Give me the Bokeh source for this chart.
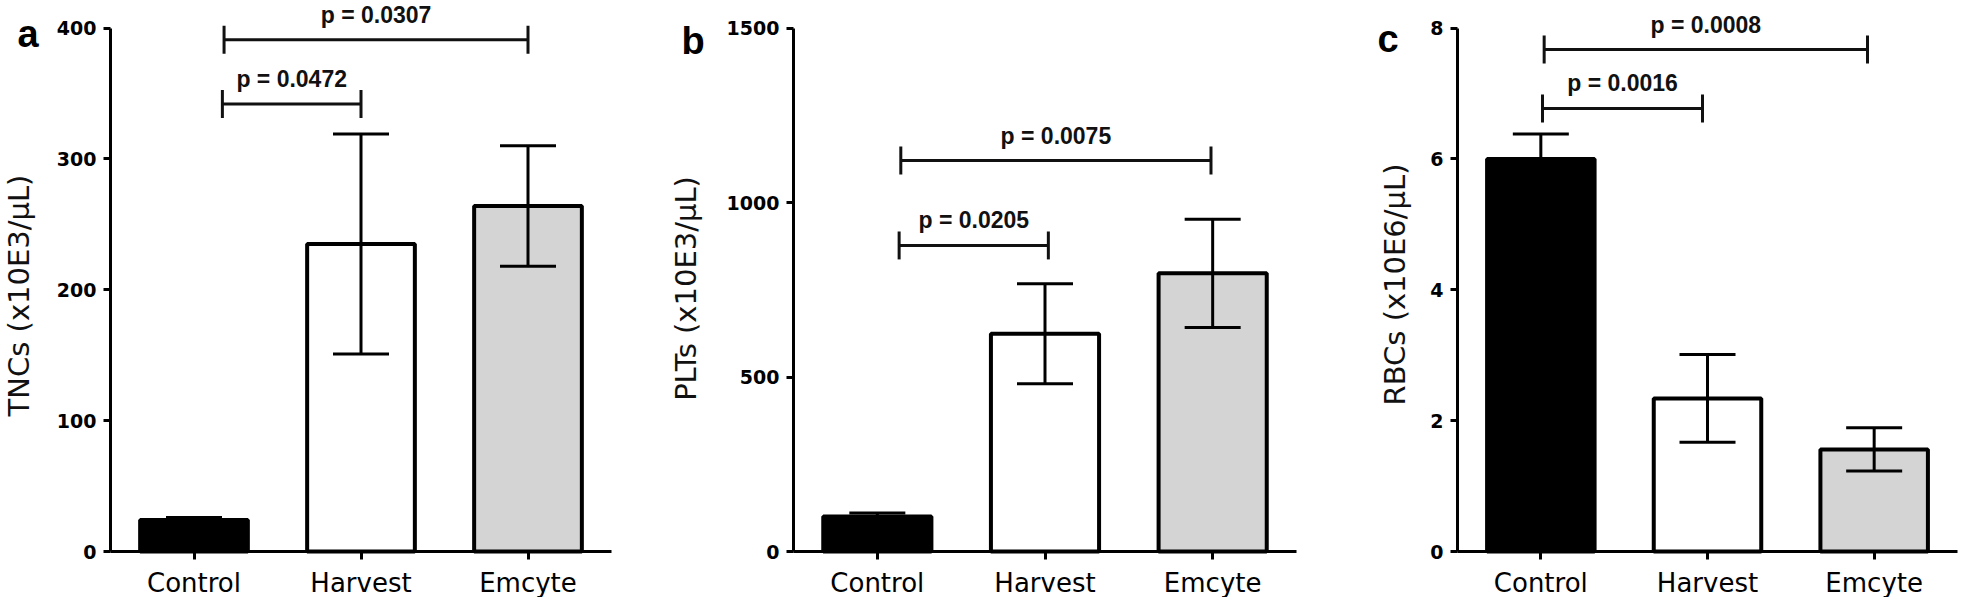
import math
from bokeh.plotting import figure
from bokeh.models import Range1d, FixedTicker, Whisker, TeeHead, Label, ColumnDataSource
from bokeh.layouts import row
from bokeh.embed import file_html
from bokeh.resources import INLINE

# ---------------- data ----------------
categories = ["Control", "Harvest", "Emcyte"]
bar_colors = ["#000000", "#ffffff", "#d4d4d4"]

tnc_mean = [24, 235, 264]
tnc_err = [2, 84, 46]
tnc_ticks = [0, 100, 200, 300, 400]

plt_mean = [100, 624, 797]
plt_err = [10, 143, 155]
plt_ticks = [0, 500, 1000, 1500]

rbc_mean = [6.0, 2.34, 1.56]
rbc_err = [0.38, 0.67, 0.33]
rbc_ticks = [0, 2, 4, 6, 8]

# significance brackets: (from category, offset, to category, offset, level, label)
tnc_brackets = [("Control", 0.17, "Harvest", 0.0, 342, "p = 0.0472"),
                ("Control", 0.18, "Emcyte", 0.0, 391, "p = 0.0307")]
plt_brackets = [("Control", 0.13, "Harvest", 0.02, 877, "p = 0.0205"),
                ("Control", 0.14, "Emcyte", -0.01, 1120, "p = 0.0075")]
rbc_brackets = [("Control", 0.01, "Harvest", -0.03, 6.77, "p = 0.0016"),
                ("Control", 0.02, "Emcyte", -0.04, 7.67, "p = 0.0008")]

# ---------------- layout (pixels) ----------------
H = 597
ZERO_Y = 551      # pixel row of value 0
TOP_Y = 27.5      # pixel row of the top tick

panels = [
    dict(letter="a", title="TNCs (x10E3/\u00b5L)", mean=tnc_mean, err=tnc_err, ticks=tnc_ticks,
         brackets=tnc_brackets, x0=0, width=660, left=110, plotw=501,
         letter_pos=(17, 33), title_pos=(18, 295)),
    dict(letter="b", title="PLTs (x10E3/\u00b5L)", mean=plt_mean, err=plt_err, ticks=plt_ticks,
         brackets=plt_brackets, x0=660, width=660, left=133, plotw=503,
         letter_pos=(681, 40), title_pos=(685, 288)),
    dict(letter="c", title="RBCs (x10E6/\u00b5L)", mean=rbc_mean, err=rbc_err, ticks=rbc_ticks,
         brackets=rbc_brackets, x0=1320, width=641, left=137, plotw=500,
         letter_pos=(1377, 38), title_pos=(1394, 284)),
]

INK = "#111111"


def make_panel(cfg):
    n = len(categories)
    xs = [i + 0.5 for i in range(n)]
    pos = {c: i + 0.5 for i, c in enumerate(categories)}
    ymax = cfg["ticks"][-1]

    ppu = cfg["plotw"] / n
    ppy = (ZERO_Y - TOP_Y) / ymax
    W, left, x0 = cfg["width"], cfg["left"], cfg["x0"]

    def dx(px):
        return (px - x0 - left) / ppu

    def dy(py):
        return (ZERO_Y - py) / ppy

    p = figure(width=W, height=H,
               x_range=Range1d(dx(x0), dx(x0 + W)), y_range=Range1d(dy(H), dy(0)),
               output_backend="svg", toolbar_location=None, title=None,
               min_border_left=0, min_border_right=0, min_border_top=0, min_border_bottom=0)
    p.grid.visible = False
    p.outline_line_color = None
    p.background_fill_color = "white"
    p.border_fill_color = "white"

    src = ColumnDataSource(dict(
        x=xs, top=cfg["mean"], color=bar_colors,
        upper=[m + e for m, e in zip(cfg["mean"], cfg["err"])],
        lower=[m - e for m, e in zip(cfg["mean"], cfg["err"])],
    ))
    p.vbar(x="x", top="top", width=0.645, bottom=0, source=src,
           fill_color="color", line_color="black", line_width=4)

    p.add_layout(Whisker(source=src, base="x", upper="upper", lower="lower", level="annotation",
                         line_color="black", line_width=3,
                         upper_head=TeeHead(size=56, line_color="black", line_width=3),
                         lower_head=TeeHead(size=56, line_color="black", line_width=3)))

    bsrc = ColumnDataSource(dict(
        base=[b[4] for b in cfg["brackets"]],
        lo=[pos[b[0]] + b[1] for b in cfg["brackets"]],
        hi=[pos[b[2]] + b[3] for b in cfg["brackets"]],
    ))
    p.add_layout(Whisker(source=bsrc, base="base", lower="lo", upper="hi", dimension="width",
                         level="annotation", line_color=INK, line_width=3,
                         upper_head=TeeHead(size=28, line_color=INK, line_width=3),
                         lower_head=TeeHead(size=28, line_color=INK, line_width=3)))
    for b in cfg["brackets"]:
        mid = (pos[b[0]] + b[1] + pos[b[2]] + b[3]) / 2
        p.add_layout(Label(x=mid, y=b[4], text=b[5], y_offset=25,
                           text_align="center", text_baseline="middle",
                           text_font="Liberation Sans", text_font_style="bold",
                           text_font_size="23px", text_color=INK))

    # y axis
    ya = p.yaxis[0]
    ya.fixed_location = 0
    ya.bounds = (0, ymax)
    ya.ticker = FixedTicker(ticks=cfg["ticks"])
    ya.axis_line_width = 3
    ya.axis_line_color = "black"
    ya.major_tick_line_width = 3
    ya.major_tick_out = 7
    ya.major_tick_in = 0
    ya.minor_tick_line_color = None
    ya.major_label_standoff = 7
    ya.major_label_text_font = "DejaVu Sans"
    ya.major_label_text_font_style = "bold"
    ya.major_label_text_font_size = "19px"
    ya.major_label_text_color = "black"

    # x axis
    xa = p.xaxis[0]
    xa.fixed_location = 0
    xa.bounds = (0, n)
    xa.ticker = FixedTicker(ticks=xs)
    xa.major_label_overrides = {x: c for x, c in zip(xs, categories)}
    xa.axis_line_width = 3
    xa.axis_line_color = "black"
    xa.major_tick_line_width = 3
    xa.major_tick_out = 8
    xa.major_tick_in = 0
    xa.minor_tick_line_color = None
    xa.major_label_standoff = 8
    xa.major_label_text_font = "DejaVu Sans"
    xa.major_label_text_font_size = "26px"
    xa.major_label_text_color = "black"

    # y title and panel letter
    tx, ty = cfg["title_pos"]
    p.add_layout(Label(x=dx(tx), y=dy(ty), text=cfg["title"],
                       angle=math.pi / 2, text_align="center", text_baseline="middle",
                       text_font="DejaVu Sans", text_font_size="29px", text_color=INK))
    lx, ly = cfg["letter_pos"]
    p.add_layout(Label(x=dx(lx), y=dy(ly), text=cfg["letter"],
                       text_align="left", text_baseline="alphabetic",
                       text_font="Liberation Sans", text_font_style="bold",
                       text_font_size="38px", text_color="black"))
    return p


layout = row(*[make_panel(c) for c in panels])
open("out.html", "w").write(file_html(layout, INLINE))
